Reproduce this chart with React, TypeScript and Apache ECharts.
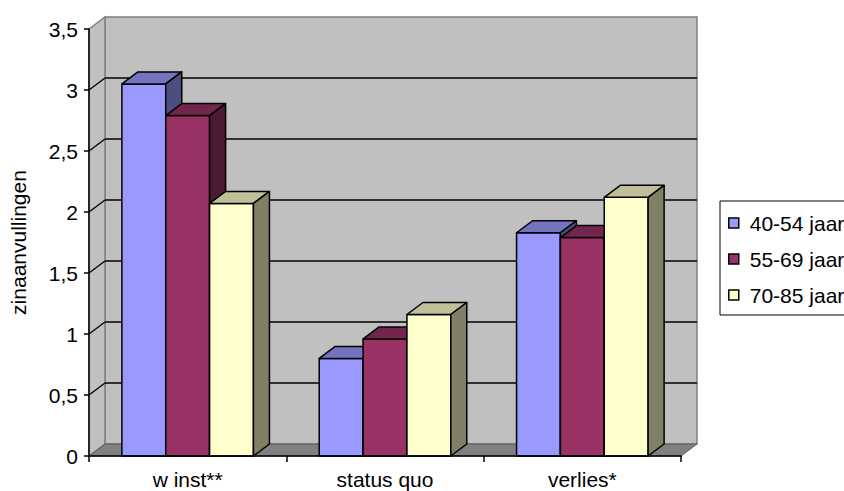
import React, { useEffect, useRef } from "react";
import * as echarts from "echarts";

const categories = ["w inst**", "status quo", "verlies*"];
const seriesNames = ["40-54 jaar", "55-69 jaar", "70-85 jaar"];
const s40_54 = [3.05, 0.8, 1.83];
const s55_69 = [2.79, 0.96, 1.79];
const s70_85 = [2.07, 1.16, 2.12];
const yTicks = [0, 0.5, 1, 1.5, 2, 2.5, 3, 3.5];

const seriesValues = [s40_54, s55_69, s70_85];
const faceColors = [
  { front: "#9999FF", top: "#7373BF", side: "#4D4D80" },
  { front: "#993366", top: "#73264D", side: "#4D1A33" },
  { front: "#FFFFCC", top: "#BFBF99", side: "#808066" },
];

const DX = 16;
const DY = 12;
const FONT = "Liberation Sans";

export default function App() {
  const ref = useRef<HTMLDivElement>(null);

  useEffect(() => {
    document.body.style.margin = "0";
    if (!ref.current) return;
    const chart = echarts.init(ref.current, null, { renderer: "svg" });

    const background = {
      type: "custom",
      name: "bg",
      silent: true,
      z: 1,
      data: [[0, 0]],
      renderItem: (params: any, api: any) => {
        const cs = params.coordSys;
        const gx = cs.x;
        const gw = cs.width;
        const top = api.coord([0, yTicks[yTicks.length - 1]])[1];
        const bottom = api.coord([0, yTicks[0]])[1];
        const children: any[] = [];
        children.push({
          type: "rect",
          shape: { x: gx + DX, y: top - DY, width: gw, height: bottom - top },
          style: { fill: "#C0C0C0", stroke: "#808080", lineWidth: 1.5 },
        });
        children.push({
          type: "polygon",
          shape: {
            points: [
              [gx, top],
              [gx + DX, top - DY],
              [gx + DX, bottom - DY],
              [gx, bottom],
            ],
          },
          style: { fill: "#C0C0C0", stroke: "#808080", lineWidth: 1.5 },
        });
        yTicks.forEach((v, i) => {
          if (i === 0 || i === yTicks.length - 1) return;
          const y = api.coord([0, v])[1];
          children.push({
            type: "line",
            shape: { x1: gx, y1: y, x2: gx + DX, y2: y - DY },
            style: { stroke: "#000", lineWidth: 1.3 },
          });
          children.push({
            type: "line",
            shape: { x1: gx + DX, y1: y - DY, x2: gx + DX + gw, y2: y - DY },
            style: { stroke: "#000", lineWidth: 1.3 },
          });
        });
        children.push({
          type: "polygon",
          shape: {
            points: [
              [gx, bottom],
              [gx + gw, bottom],
              [gx + gw + DX, bottom - DY],
              [gx + DX, bottom - DY],
            ],
          },
          style: { fill: "#808080", stroke: "#5a5a5a", lineWidth: 1 },
        });
        return { type: "group", children };
      },
    };

    const bars = seriesValues.map((vals, s) => ({
      type: "custom",
      name: seriesNames[s],
      z: 2,
      itemStyle: { color: faceColors[s].front },
      data: vals.map((v, i) => [i, v]),
      renderItem: (params: any, api: any) => {
        const cat = api.value(0);
        const val = api.value(1);
        const band = api.size([1, 0])[0];
        const bw = band / 4.5;
        const base = api.coord([cat, 0]);
        const xc = base[0];
        const y0 = base[1];
        const y1 = api.coord([cat, val])[1];
        const left = xc + (s - 1.5) * bw;
        const c = faceColors[s];
        const stroke = { stroke: "#000", lineWidth: 1.5, lineJoin: "round" };
        return {
          type: "group",
          children: [
            {
              type: "rect",
              shape: { x: left, y: y1, width: bw, height: y0 - y1 },
              style: { fill: c.front, ...stroke },
            },
            {
              type: "polygon",
              shape: {
                points: [
                  [left, y1],
                  [left + bw, y1],
                  [left + bw + DX, y1 - DY],
                  [left + DX, y1 - DY],
                ],
              },
              style: { fill: c.top, ...stroke },
            },
            {
              type: "polygon",
              shape: {
                points: [
                  [left + bw, y1],
                  [left + bw + DX, y1 - DY],
                  [left + bw + DX, y0 - DY],
                  [left + bw, y0],
                ],
              },
              style: { fill: c.side, ...stroke },
            },
          ],
        };
      },
    }));

    chart.setOption({
      animation: false,
      textStyle: { fontFamily: FONT, color: "#000" },
      grid: { left: 89, right: 163, top: 29, bottom: 35, containLabel: false },
      legend: {
        data: seriesNames,
        orient: "vertical",
        left: 720,
        top: 201,
        padding: [11, 40, 9, 8],
        itemGap: 14,
        itemWidth: 10,
        itemHeight: 10,
        icon: "rect",
        borderColor: "#000",
        borderWidth: 1,
        backgroundColor: "#fff",
        selectedMode: false,
        itemStyle: { borderColor: "#000", borderWidth: 1.5 },
        textStyle: {
          fontFamily: FONT,
          fontSize: 21,
          lineHeight: 22,
          color: "#000",
          padding: [0, 0, 0, 6],
        },
      },
      xAxis: {
        type: "category",
        data: categories,
        z: 5,
        axisLine: { show: true, lineStyle: { color: "#000", width: 1.5 } },
        axisTick: { show: true, length: 6, lineStyle: { color: "#000", width: 1.5 } },
        axisLabel: { fontFamily: FONT, fontSize: 21, color: "#000", margin: 13 },
        splitLine: { show: false },
      },
      yAxis: {
        type: "value",
        min: yTicks[0],
        max: yTicks[yTicks.length - 1],
        interval: 0.5,
        z: 5,
        name: "zinaanvullingen",
        nameLocation: "middle",
        nameRotate: 90,
        nameGap: 60,
        nameTextStyle: { fontFamily: FONT, fontSize: 21, color: "#000" },
        axisLine: { show: true, lineStyle: { color: "#000", width: 1.5 } },
        axisTick: { show: true, length: 5, lineStyle: { color: "#000", width: 1.5 } },
        axisLabel: {
          fontFamily: FONT,
          fontSize: 21,
          color: "#000",
          margin: 11,
          formatter: (v: number) => String(v).replace(".", ","),
        },
        splitLine: { show: false },
      },
      series: [background, ...bars],
    });

    return () => chart.dispose();
  }, []);

  return <div ref={ref} style={{ width: 844, height: 491 }} />;
}
